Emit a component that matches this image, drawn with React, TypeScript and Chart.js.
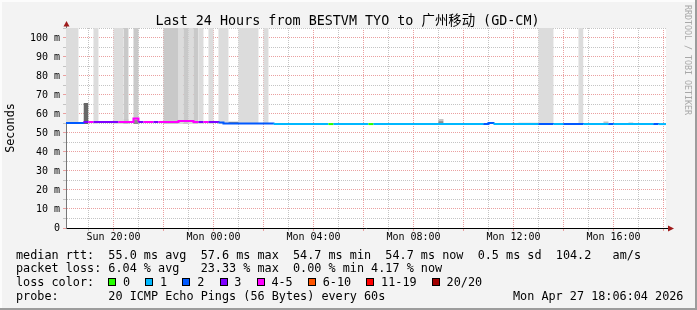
import { useEffect, useRef } from 'react';
import { Chart, registerables } from 'chart.js';

Chart.register(...registerables);

// ---------- texts ----------
const TITLE = 'Last 24 Hours from BESTVM TYO to 广州移动 (GD-CM)';
const Y_TITLE = 'Seconds';
const WATERMARK = 'RRDTOOL / TOBI OETIKER';

// ---------- axes (hours since Sun 00:00) ----------
const X_MIN = 18.1011; // Sun 18:06:04
const X_MAX = 42.1011; // Mon 18:06:04
const Y_MIN = 0;
const Y_MAX = 105.26; // ms
const xTickValues = [19, 20, 21, 22, 23, 24, 25, 26, 27, 28, 29, 30, 31, 32, 33, 34, 35, 36, 37, 38, 39, 40, 41, 42];
const xLabelHours = [20, 24, 28, 32, 36, 40];
const xLabelTexts = ['Sun 20:00', 'Mon 00:00', 'Mon 04:00', 'Mon 08:00', 'Mon 12:00', 'Mon 16:00'];
const yTickValues = [0, 5, 10, 15, 20, 25, 30, 35, 40, 45, 50, 55, 60, 65, 70, 75, 80, 85, 90, 95, 100, 105];
const yLabelValues = [0, 10, 20, 30, 40, 50, 60, 70, 80, 90, 100];
const yLabelTexts = ['0', '10 m', '20 m', '30 m', '40 m', '50 m', '60 m', '70 m', '80 m', '90 m', '100 m'];

// ---------- loss colours ----------
const lossLabels = ['0', '1', '2', '3', '4-5', '6-10', '11-19', '20/20'];
const lossColors = ['#26ff00', '#00b8ff', '#0059ff', '#7e00ff', '#ff00ff', '#ff5500', '#ff0000', '#a10000'];

// ---------- smoke (ms) ----------
const SMOKE_FLOOR = 54.7;
const smokeLightStart = [18.1, 19.2, 20.0, 22.6, 23.0, 23.4, 23.8, 24.2, 25.0, 26.0, 37.0, 38.6];
const smokeLightEnd = [18.6, 19.4, 20.4, 22.8, 23.2, 23.6, 24.0, 24.6, 25.8, 26.2, 37.6, 38.8];
const smokeLightTop = [130, 130, 130, 130, 130, 130, 130, 130, 130, 130, 130, 130];
const smokeMidStart = [20.4, 20.8, 22.0, 22.8, 23.2];
const smokeMidEnd = [20.6, 21.0, 22.6, 23.0, 23.4];
const smokeMidTop = [130, 130, 130, 130, 130];
const smokeDarkStart = [18.8];
const smokeDarkEnd = [19.0];
const smokeDarkTop = [65.8];
const bumpLightStart = [20.4, 33.0, 36.2, 37.6, 38.8, 39.6, 40.6];
const bumpLightEnd = [20.6, 33.2, 37.0, 38.0, 39.6, 39.8, 40.8];
const bumpLightTop = [57.3, 57.4, 55.4, 55.3, 55.3, 56.0, 55.5];
const bumpDarkStart = [20.8, 24.6, 33.0];
const bumpDarkEnd = [21.0, 25.0, 33.2];
const bumpDarkTop = [57.0, 55.9, 56.2];

// ---------- median rtt (ms) with loss class per step ----------
const medianStart = [18.1, 18.8, 19.0, 19.2, 20.2, 20.8, 21.0, 21.2, 21.6, 21.8, 22.6, 23.2, 23.4, 23.6, 23.8, 24.2, 24.4, 26.4, 28.6, 28.8, 30.2, 30.4, 34.8, 35.0, 35.2, 37.0, 37.6, 38.0, 38.8, 39.8, 40.0, 41.6, 41.8];
const medianValue = [55.3, 55.8, 55.8, 55.8, 55.8, 57.6, 55.8, 55.8, 55.8, 55.8, 56.3, 55.8, 55.8, 55.8, 55.8, 55.5, 55.0, 54.7, 54.7, 54.7, 54.7, 54.7, 54.8, 55.3, 54.7, 54.8, 54.7, 54.8, 54.7, 54.8, 54.7, 54.8, 54.7];
const medianLoss = [2, 3, 4, 3, 4, 4, 3, 4, 3, 4, 4, 4, 3, 4, 3, 2, 2, 1, 0, 1, 0, 1, 2, 2, 1, 2, 1, 2, 1, 2, 1, 2, 1];

// ---------- legend stats ----------
const rttAvg = '55.0';
const rttMax = '57.6';
const rttMin = '54.7';
const rttNow = '54.7';
const rttSd = '0.5';
const rttAms = '104.2';
const lossAvg = '6.04';
const lossMax = '23.33';
const lossMin = '0.00';
const lossNow = '4.17';
const probeText = '20 ICMP Echo Pings (56 Bytes) every 60s';
const stampText = 'Mon Apr 27 18:06:04 2026';

const MONO = '"DejaVu Sans Mono", monospace';
const MAJOR = 'rgba(232,150,150,0.9)';
const MINOR = 'rgba(190,190,190,0.9)';

function stepArea(starts: number[], ends: number[], tops: number[], floor: number) {
  const pts: { x: number; y: number }[] = [];
  for (let i = 0; i < starts.length; i++) {
    pts.push({ x: starts[i], y: tops[i] });
    pts.push({ x: ends[i], y: floor });
  }
  return pts;
}

function areaDataset(data: any[], color: string, floor: number, order: number) {
  return {
    type: 'line' as const,
    data,
    stepped: true,
    borderColor: 'rgba(0,0,0,0)',
    borderWidth: 0,
    backgroundColor: color,
    fill: { target: { value: floor } },
    pointRadius: 0,
    pointHoverRadius: 0,
    clip: 0,
    order,
  };
}

const decorPlugin = {
  id: 'decor',
  beforeDraw(chart: any) {
    const { ctx, chartArea: a, width, height } = chart;
    ctx.save();
    ctx.fillStyle = '#f3f3f3';
    ctx.fillRect(0, 0, width, height);
    ctx.fillStyle = '#fcfcfc';
    ctx.fillRect(0, 0, width, 2);
    ctx.fillRect(0, 0, 2, height);
    ctx.fillStyle = '#9c9c9c';
    ctx.fillRect(0, height - 2, width, 2);
    ctx.fillRect(width - 2, 0, 2, height);
    ctx.fillStyle = '#ffffff';
    ctx.fillRect(a.left, a.top, a.right - a.left, a.bottom - a.top);
    ctx.restore();
  },
  afterDraw(chart: any) {
    const { ctx, chartArea: a } = chart;
    ctx.save();
    // title
    ctx.fillStyle = '#000';
    ctx.font = `13.4px ${MONO.replace('monospace', '"Noto Sans CJK SC", monospace')}`;
    ctx.textAlign = 'center';
    ctx.textBaseline = 'alphabetic';
    ctx.fillText(TITLE, 347.5, 25);

    // watermark
    ctx.save();
    ctx.translate(687, 60);
    ctx.rotate(Math.PI / 2);
    ctx.font = `8.3px ${MONO}`;
    ctx.fillStyle = '#a8a8a8';
    ctx.textAlign = 'center';
    ctx.textBaseline = 'middle';
    ctx.fillText(WATERMARK, 0, 0);
    ctx.restore();

    // axis extensions and arrows
    ctx.strokeStyle = '#777';
    ctx.lineWidth = 1;
    ctx.beginPath();
    ctx.moveTo(a.left + 0.5, a.top - 3);
    ctx.lineTo(a.left + 0.5, a.top);
    ctx.stroke();
    ctx.strokeStyle = '#000';
    ctx.beginPath();
    ctx.moveTo(a.right, a.bottom + 0.5);
    ctx.lineTo(a.right + 3, a.bottom + 0.5);
    ctx.stroke();
    ctx.fillStyle = '#9e1a1a';
    ctx.beginPath();
    ctx.moveTo(a.left - 2.5, a.top - 1.5);
    ctx.lineTo(a.left + 3.5, a.top - 1.5);
    ctx.lineTo(a.left + 0.5, a.top - 7);
    ctx.closePath();
    ctx.fill();
    ctx.beginPath();
    ctx.moveTo(a.right + 2, a.bottom - 2.5);
    ctx.lineTo(a.right + 2, a.bottom + 3.5);
    ctx.lineTo(a.right + 8, a.bottom + 0.5);
    ctx.closePath();
    ctx.fill();

    // legend
    ctx.fillStyle = '#000';
    ctx.font = `11.8px ${MONO}`;
    ctx.textAlign = 'left';
    ctx.textBaseline = 'alphabetic';
    const line1 = `median rtt:  ${rttAvg} ms avg  ${rttMax} ms max  ${rttMin} ms min  ${rttNow} ms now  ${rttSd} ms sd  ${rttAms}   am/s`;
    const line2 = `packet loss: ${lossAvg} % avg   ${lossMax} % max  ${lossMin} % min ${lossNow} % now`;
    ctx.fillText(line1, 16, 258.5);
    ctx.fillText(line2, 16, 272);
    ctx.fillText('loss color:', 16, 285.5);
    ctx.fillText(`probe:       ${probeText}`, 16, 299.5);
    ctx.fillText(stampText, 513, 299.5);

    let bx = 108.3;
    for (let i = 0; i < lossLabels.length; i++) {
      const x = Math.round(bx);
      ctx.fillStyle = lossColors[i];
      ctx.fillRect(x, 278, 8, 8);
      ctx.strokeStyle = '#000';
      ctx.lineWidth = 1;
      ctx.strokeRect(x + 0.5, 278.5, 7, 7);
      ctx.fillStyle = '#000';
      ctx.fillText(lossLabels[i], bx + 14.7, 285.5);
      bx += 14.7 + lossLabels[i].length * 7.1 + 15.3;
    }
    ctx.restore();
  },
};

export default function App() {
  const ref = useRef<HTMLCanvasElement>(null);
  useEffect(() => {
    const canvas = ref.current!;
    const medianData = medianStart.map((x, i) => ({ x, y: medianValue[i] }));
    medianData.push({ x: X_MAX, y: medianValue[medianValue.length - 1] });

    const chart = new Chart(canvas, {
      type: 'line',
      data: {
        datasets: [
          {
            type: 'line',
            data: medianData,
            stepped: true,
            borderWidth: 2,
            borderColor: lossColors[1],
            borderCapStyle: 'butt',
            segment: {
              borderColor: (c: any) => lossColors[medianLoss[Math.min(c.p0DataIndex, medianLoss.length - 1)]],
            },
            fill: false,
            pointRadius: 0,
            pointHoverRadius: 0,
            clip: 0,
            order: 0,
          } as any,
          areaDataset(stepArea(bumpDarkStart, bumpDarkEnd, bumpDarkTop, SMOKE_FLOOR), '#8c8c8c', SMOKE_FLOOR, 1),
          areaDataset(stepArea(bumpLightStart, bumpLightEnd, bumpLightTop, SMOKE_FLOOR), '#c4c4c4', SMOKE_FLOOR, 2),
          areaDataset(stepArea(smokeDarkStart, smokeDarkEnd, smokeDarkTop, SMOKE_FLOOR), '#686868', SMOKE_FLOOR, 3),
          areaDataset(stepArea(smokeMidStart, smokeMidEnd, smokeMidTop, SMOKE_FLOOR), '#c9c9c9', SMOKE_FLOOR, 4),
          areaDataset(stepArea(smokeLightStart, smokeLightEnd, smokeLightTop, SMOKE_FLOOR), '#dcdcdc', SMOKE_FLOOR, 5),
        ] as any,
      },
      options: {
        responsive: false,
        maintainAspectRatio: false,
        animation: false,
        devicePixelRatio: 1,
        events: [],
        layout: { padding: { left: 0, right: 31, top: 28, bottom: 0 } },
        plugins: {
          legend: { display: false },
          tooltip: { enabled: false },
          title: { display: false },
        },
        scales: {
          x: {
            type: 'linear',
            min: X_MIN,
            max: X_MAX,
            z: 1,
            afterBuildTicks: (s: any) => {
              s.ticks = xTickValues.map((v) => ({ value: v }));
            },
            afterFit: (s: any) => {
              s.height = 82;
            },
            grid: {
              color: (c: any) => (c.tick && c.tick.value % 2 === 0 ? MAJOR : MINOR),
              tickColor: (c: any) => (c.tick && c.tick.value % 2 === 0 ? MAJOR : MINOR),
              lineWidth: 1,
              tickLength: 3,
              tickBorderDash: [],
            },
            border: { display: true, color: '#000', width: 1, dash: [1, 1] },
            ticks: {
              autoSkip: false,
              maxRotation: 0,
              minRotation: 0,
              padding: 0,
              color: '#000',
              font: { family: MONO, size: 10 },
              callback: (v: any) => {
                const i = xLabelHours.indexOf(Number(v));
                return i >= 0 ? xLabelTexts[i] : '';
              },
            },
          },
          y: {
            type: 'linear',
            min: Y_MIN,
            max: Y_MAX,
            z: 1,
            afterBuildTicks: (s: any) => {
              s.ticks = yTickValues.map((v) => ({ value: v }));
            },
            afterFit: (s: any) => {
              s.width = 66;
            },
            grid: {
              color: (c: any) => (c.tick && c.tick.value % 10 === 0 ? MAJOR : MINOR),
              tickColor: (c: any) => (c.tick && c.tick.value % 10 === 0 ? MAJOR : MINOR),
              lineWidth: 1,
              tickLength: 3,
              tickBorderDash: [],
            },
            border: { display: true, color: '#777', width: 1, dash: [1, 1] },
            ticks: {
              autoSkip: false,
              padding: 3,
              color: '#000',
              font: { family: MONO, size: 10 },
              callback: (v: any) => {
                const i = yLabelValues.indexOf(Number(v));
                return i >= 0 ? yLabelTexts[i] : '';
              },
            },
            title: {
              display: true,
              text: Y_TITLE,
              color: '#000',
              font: { family: MONO, size: 11.8 },
              padding: { top: 4, bottom: 0 },
            },
          },
        },
      } as any,
      plugins: [decorPlugin],
    });
    return () => chart.destroy();
  }, []);

  return (
    <div style={{ position: 'absolute', left: 0, top: 0, width: 697, height: 310 }}>
      <canvas ref={ref} width={697} height={310} style={{ display: 'block', width: 697, height: 310 }} />
    </div>
  );
}
